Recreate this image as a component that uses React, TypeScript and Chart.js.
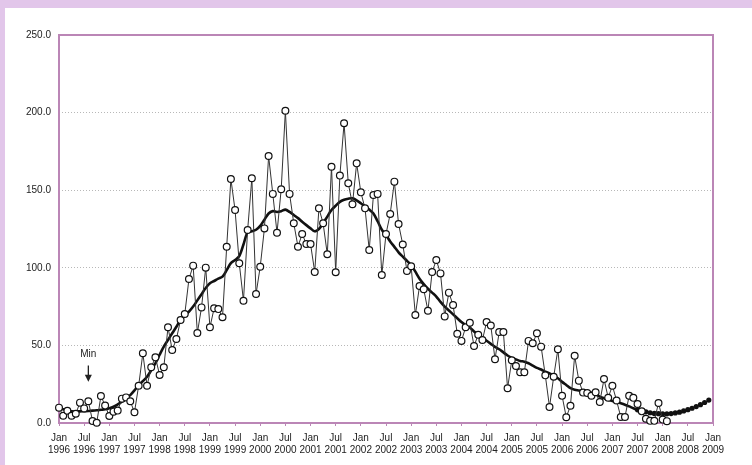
import React, { useEffect, useRef } from "react";
import { Chart, registerables } from "chart.js";

Chart.register(...registerables);

const monthNames = ["Jan", "Feb", "Mar", "Apr", "May", "Jun", "Jul", "Aug", "Sep", "Oct", "Nov", "Dec"];
const firstYear = 1996;
const lastYear = 2009;

// Monthly observed values, Jan 1996 .. Feb 2008
const observed = [
  9.9, 4.7, 7.9, 4.7, 6.0, 13.1, 9.4, 14.0, 1.3, 0.2, 17.4, 11.2,
  4.5, 7.3, 8.0, 15.7, 16.5, 14.0, 6.9, 24.0, 44.9, 24.0, 35.9, 42.3,
  30.9, 35.9, 61.7, 47.0, 54.1, 66.4, 70.2, 92.8, 101.4, 58.0, 74.5, 100.1,
  61.7, 73.9, 73.4, 68.1, 113.6, 157.2, 137.2, 102.9, 78.8, 124.4, 157.7, 83.1,
  100.7, 125.4, 172.0, 147.6, 122.6, 150.6, 201.2, 147.6, 128.7, 113.6, 121.8, 115.3,
  115.3, 97.3, 138.3, 128.7, 108.7, 165.1, 97.1, 159.4, 193.1, 154.4, 140.9, 167.3,
  148.6, 138.3, 111.5, 146.9, 147.6, 95.4, 121.8, 134.7, 155.5, 128.2, 115.0, 98.0,
  101.0, 69.6, 88.3, 86.2, 72.3, 97.3, 105.0, 96.4, 68.7, 84.0, 76.0, 57.5,
  52.9, 61.7, 64.6, 49.6, 56.9, 53.5, 65.1, 62.8, 41.1, 58.6, 58.6, 22.4,
  40.4, 36.7, 32.7, 32.7, 52.9, 51.4, 57.8, 49.2, 30.7, 10.3, 29.8, 47.5,
  17.5, 3.7, 11.1, 43.3, 27.3, 19.6, 19.3, 17.6, 19.8, 13.5, 28.3, 16.3,
  24.0, 14.5, 3.9, 3.9, 17.6, 16.2, 12.2, 7.5, 2.7, 1.4, 1.4, 12.9,
  2.2, 1.2,
];

// Smoothed curve, Jan 1996 .. Jul 2007
const smoothed = [
  9.5, 8.8, 8.2, 7.5, 7.4, 7.5, 7.6, 7.7, 8.0, 8.2, 8.5, 8.8,
  9.5, 10.5, 12.0, 13.7, 15.8, 18.0, 21.0, 24.5, 27.0, 29.8, 34.0, 38.5,
  44.0, 49.2, 53.5, 57.8, 62.0, 66.4, 69.0, 71.7, 75.0, 79.0, 83.0, 87.0,
  90.0, 91.5, 93.0, 94.3, 98.5, 103.0, 105.0, 107.5, 115.0, 123.0, 123.5, 124.5,
  127.0, 131.0, 135.0, 136.5, 136.0, 136.5, 137.5, 136.0, 134.0, 132.0, 129.7, 127.5,
  125.4, 123.5, 125.0, 128.7, 133.0, 137.2, 140.0, 142.5, 143.8, 144.5, 144.8, 143.5,
  141.6, 139.5, 137.5, 135.0, 130.0, 124.5, 121.0, 117.0, 113.5, 110.0, 107.2, 104.5,
  101.8, 97.5, 93.0, 89.5, 86.5, 84.0, 81.5, 78.0, 75.0, 72.5, 70.0, 67.5,
  65.0, 63.0, 61.5, 59.0, 57.0, 55.0, 53.0, 51.0, 49.0, 47.5, 45.5, 43.5,
  42.0, 41.0, 40.0, 39.5, 38.5, 37.0, 35.5, 34.5, 33.0, 32.0, 30.5, 28.8,
  26.5, 24.5, 22.5, 21.5, 21.0, 20.5, 20.2, 19.5, 18.5, 17.0, 16.0, 15.0,
  14.2, 13.5, 12.7, 11.8, 10.7, 9.5, 8.4,
];

// Predicted values, Jul 2007 .. Dec 2008
const predictionStart = 138;
const predicted = [
  8.5, 7.8, 7.2, 6.6, 6.2, 6.0, 5.9, 5.9, 6.1, 6.5, 7.0, 7.8,
  8.6, 9.5, 10.6, 11.8, 13.2, 14.8,
];

const yTicks = [0, 50, 100, 150, 200, 250];

const minMarkIndex = 7;
const minLabelValue = 44.5;
const minArrowTop = 37;
const minArrowTip = 26.5;

const FONT = "'Liberation Sans', Arial, sans-serif";
const MAUVE = "#bb86b6";

export default function App() {
  const ref = useRef<HTMLCanvasElement | null>(null);

  useEffect(() => {
    document.body.style.margin = "0";
    const categories: string[] = [];
    for (let y = firstYear; y <= lastYear; y++) {
      for (let m = 0; m < 12; m++) {
        if (y === lastYear && m > 0) break;
        categories.push(monthNames[m] + " " + y);
      }
    }
    const obs = categories.map((_, i) => (i < observed.length ? observed[i] : null));
    const sm = categories.map((_, i) => (i < smoothed.length ? smoothed[i] : null));
    const pr = categories.map((_, i) =>
      i >= predictionStart && i - predictionStart < predicted.length ? predicted[i - predictionStart] : null
    );

    const decor = {
      id: "decor",
      beforeDraw(chart: any) {
        const c = chart.ctx;
        c.save();
        c.fillStyle = "#e2c6ea";
        c.fillRect(0, 0, chart.width, chart.height);
        c.fillStyle = "#ffffff";
        c.fillRect(5, 8, chart.width - 5, chart.height - 8);
        c.restore();
      },
      beforeDatasetsDraw(chart: any) {
        const c = chart.ctx;
        const a = chart.chartArea;
        c.save();
        c.strokeStyle = MAUVE;
        c.lineWidth = 2;
        c.strokeRect(a.left, a.top, a.right - a.left, a.bottom - a.top);
        c.restore();
      },
      afterDatasetsDraw(chart: any) {
        const c = chart.ctx;
        const xs = chart.scales.x;
        const ys = chart.scales.y;
        const x = xs.getPixelForValue(minMarkIndex);
        const yText = ys.getPixelForValue(minLabelValue);
        const yTop = ys.getPixelForValue(minArrowTop);
        const yTip = ys.getPixelForValue(minArrowTip);
        c.save();
        c.fillStyle = "#222";
        c.font = "10px " + FONT;
        c.textAlign = "center";
        c.textBaseline = "middle";
        c.fillText("Min", x, yText);
        c.strokeStyle = "#222";
        c.lineWidth = 1.3;
        c.beginPath();
        c.moveTo(x, yTop);
        c.lineTo(x, yTip - 6);
        c.stroke();
        c.beginPath();
        c.moveTo(x - 3.5, yTip - 7);
        c.lineTo(x + 3.5, yTip - 7);
        c.lineTo(x, yTip);
        c.closePath();
        c.fill();
        c.restore();
      },
    };

    const chart = new Chart(ref.current as HTMLCanvasElement, {
      type: "line",
      data: {
        labels: categories,
        datasets: [
          {
            label: "Observed",
            data: obs,
            borderColor: "#333",
            borderWidth: 1,
            pointRadius: 3.4,
            pointBackgroundColor: "#ffffff",
            pointBorderColor: "#111",
            pointBorderWidth: 1.2,
            tension: 0,
            clip: false as any,
          },
          {
            label: "Smoothed",
            data: sm,
            borderColor: "#111",
            borderWidth: 2.6,
            pointRadius: 0,
            tension: 0.3,
            clip: false as any,
          },
          {
            label: "Predicted",
            data: pr,
            showLine: false,
            pointRadius: 2.6,
            pointBackgroundColor: "#111",
            pointBorderColor: "#111",
            pointBorderWidth: 0,
            clip: false as any,
          },
        ],
      },
      options: {
        animation: false,
        responsive: false,
        devicePixelRatio: 1,
        layout: { padding: { top: 35, right: 39, left: 0, bottom: 0 } },
        plugins: { legend: { display: false }, tooltip: { enabled: false } },
        scales: {
          x: {
            type: "category",
            offset: false,
            afterFit(scale: any) {
              scale.height = 42;
            },
            grid: {
              display: true,
              drawOnChartArea: false,
              drawTicks: true,
              tickLength: 3,
              color: MAUVE,
            },
            border: { display: false },
            ticks: {
              autoSkip: false,
              maxRotation: 0,
              minRotation: 0,
              padding: 6,
              color: "#222",
              font: { family: FONT, size: 10, lineHeight: 1.2 },
              callback: (_v: any, i: number) => {
                if (i % 6 !== 0) return null;
                const lab = categories[i].split(" ");
                return [lab[0], lab[1]];
              },
            },
          },
          y: {
            min: yTicks[0],
            max: yTicks[yTicks.length - 1],
            afterFit(scale: any) {
              scale.width = 59;
            },
            afterBuildTicks(scale: any) {
              scale.ticks = yTicks.map((v) => ({ value: v }));
            },
            grid: {
              drawTicks: false,
              color: (ctx: any) =>
                ctx.tick && (ctx.tick.value === yTicks[0] || ctx.tick.value === yTicks[yTicks.length - 1])
                  ? "rgba(0,0,0,0)"
                  : "#b8b8b8",
              lineWidth: 1,
            },
            border: { display: false, dash: [1, 2] },
            ticks: {
              padding: 8,
              color: "#222",
              font: { family: FONT, size: 10 },
              callback: (v: any) => Number(v).toFixed(1),
            },
          },
        },
      },
      plugins: [decor],
    });
    return () => chart.destroy();
  }, []);

  return (
    <div style={{ width: 752, height: 465, position: "relative" }}>
      <canvas ref={ref} width={752} height={465} style={{ display: "block" }} />
    </div>
  );
}
